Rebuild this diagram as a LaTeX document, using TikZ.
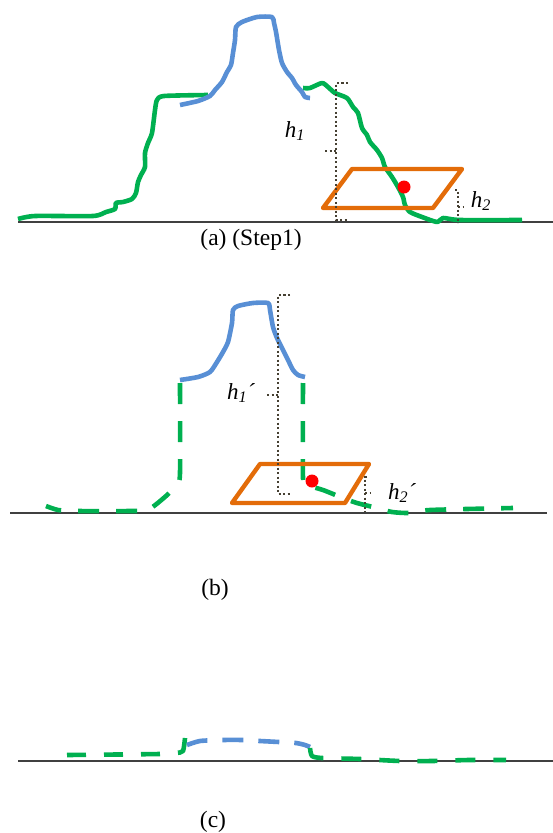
\documentclass[tikz,border=0pt]{standalone}
\usepackage{fontspec}
\setmainfont{Liberation Serif}
\usepackage{xcolor}
\usepackage{tikz}
\usetikzlibrary{positioning, calc}

\definecolor{ridgegreen}{RGB}{0,176,80}
\definecolor{peakblue}{RGB}{88,143,213}
\definecolor{planeorange}{RGB}{227,108,9}
\definecolor{measuregray}{RGB}{70,64,50}
\definecolor{groundgray}{RGB}{64,64,64}

\begin{document}
\begin{tikzpicture}[
  x=1pt, y=-1pt,
  ground/.style={draw=groundgray, line width=2.5pt},
  ridge/.style={draw=ridgegreen, line width=4.6pt, line join=round},
  ridgedash/.style={ridge, dash pattern=on 21pt off 17pt},
  peak/.style={draw=peakblue, line width=4.6pt, line join=round},
  peakdash/.style={peak, dash pattern=on 21pt off 15pt},
  plane/.style={draw=planeorange, line width=4.4pt, line join=round},
  marker/.style={fill=red},
  measure/.style={draw=measuregray, line width=2.4pt, dash pattern=on 2.2pt off 2.3pt},
  caption/.style={font=\fontsize{23.5}{27}\selectfont},
  hlabel/.style={font=\fontsize{23}{27}\selectfont\itshape}
]
  \useasboundingbox (0,0) rectangle (553,833);

  % Panel (a)
  \draw [ground] (18,222) -- (553,222);
  \draw [ridge] plot [smooth, tension=0.4] coordinates {
    (18,219) (35,216) (93,216) (106,212) (115,209) (116,203) (123,202)
    (132,199) (136,193) (138,182) (141,175) (145,167) (145,153) (148,143)
    (152,133) (155,110) (157,100) (164,96) (208,95)};
  \draw [ridge] plot [smooth, tension=0.4] coordinates {
    (303,88) (310,88) (322,83) (328,87) (335,93) (347,98) (353,107)
    (358,113) (362,128) (367,135) (370,142) (377,150) (382,158) (385,167)
    (392,177) (398,187) (403,197) (405,205) (410,212) (422,217) (437,222)
    (443,218) (460,220) (522,220)};
  \draw [peak] plot [smooth, tension=0.4] coordinates {
    (180,105) (198,101) (210,96) (215,90) (222,82) (227,72) (231,65)
    (233,53) (235,40) (236,27) (242,22) (257,17) (272,17) (274,23)
    (276,32) (279,50) (282,63) (287,72) (292,78) (296,85) (302,92)
    (305,97) (310,98)};
  \draw [plane] (352,169) -- (462,169) -- (433,208) -- (323,208) -- cycle;
  \fill [marker] (404,187) circle (6.5);
  \draw [measure] (348,83) -- (336,83) -- (336,220) -- (348,220);
  \draw [measure] (325,151) -- (336,151);
  \draw [measure] (455,190) -- (458,190) -- (458,223);
  \draw [measure] (458,207) -- (463,207);

  % Panel (b)
  \draw [ground] (10,513) -- (547,513);
  \draw [peak] plot [smooth, tension=0.4] coordinates {
    (180,380) (198,377) (210,372) (217,362) (223,352) (228,342) (232,323)
    (233,310) (238,306) (253,303) (268,303) (270,310) (273,327) (277,338)
    (282,348) (288,360) (293,370) (298,375) (305,377)};
  \draw [ridgedash] plot [smooth, tension=0.4] coordinates {
    (180,383) (180,473) (177,484) (166,496) (148,510) (132,511)
    (76,511) (58,510) (46,506)};
  \draw [ridgedash] plot [smooth, tension=0.4] coordinates {
    (303,383) (303,478) (307,485) (323,490) (343,498) (357,503)
    (377,508) (392,512) (410,513) (430,510) (513,508)};
  \draw [plane] (260,464) -- (369,464) -- (345,503) -- (232,503) -- cycle;
  \fill [marker] (312,481) circle (6.5);
  \draw [measure] (290,295) -- (278,295) -- (278,494) -- (290,494);
  \draw [measure] (267,395) -- (278,395);
  \draw [measure] (367,477) -- (365,477) -- (365,512);
  \draw [measure] (365,493) -- (370,493);

  % Panel (c)
  \draw [ground] (18,761) -- (553,761);
  \draw [ridgedash, dash pattern=on 19pt off 18pt] plot [smooth, tension=0.4] coordinates {
    (67,755) (160,754) (176,753) (183,751) (185,738)};
  \draw [peakdash] plot [smooth, tension=0.4] coordinates {
    (187,745) (200,741) (222,740) (243,740) (260,741) (279,742)
    (296,743) (305,745) (310,747)};
  \draw [ridgedash, dash pattern=on 20pt off 18pt] plot [smooth, tension=0.4] coordinates {
    (310,748) (312,756) (322,758) (360,759) (400,761) (432,761)
    (469,760) (506,760)};

  % Labels
  \node (h1) [hlabel] at (295,131) {h\textsubscript{1}};
  \node (h2) [hlabel] at (481,201) {h\textsubscript{2}};
  \node (h1b) [hlabel] at (241,393) {h\textsubscript{1}´};
  \node (h2b) [hlabel] at (402,493) {h\textsubscript{2}´};

  \node (capA) [caption] at (251,240) {(a) (Step1)};
  \node (capB) [caption] at (215,590) {(b)};
  \node (capC) [caption] at (213,822) {(c)};

\end{tikzpicture}
\end{document}
